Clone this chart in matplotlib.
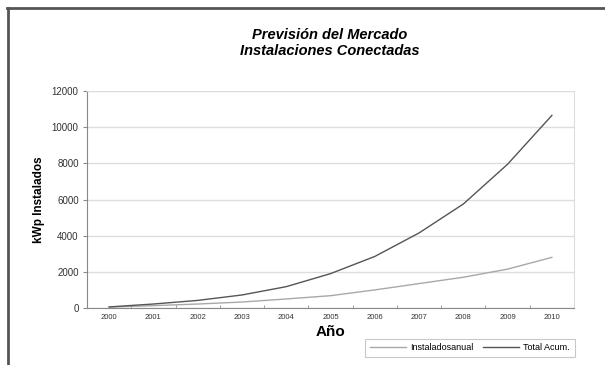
import matplotlib.pyplot as plt
from matplotlib.lines import Line2D
import numpy as np

plt.rcParams['font.family'] = ['Liberation Sans', 'DejaVu Sans']

# data
years = ['2000', '2001', '2002', '2003', '2004', '2005', '2006', '2007', '2008', '2009', '2010']
anual = [50, 130, 220, 330, 500, 680, 1000, 1350, 1700, 2150, 2800]
total = [60, 220, 420, 720, 1180, 1900, 2850, 4150, 5750, 7950, 10650]
yticks = [0, 2000, 4000, 6000, 8000, 10000, 12000]

fig = plt.figure(figsize=(6.05, 3.65), dpi=100)
ax = fig.add_axes([87/605, 1 - 308/365, (574 - 87)/605, (308 - 91)/365])

x = np.arange(len(years))
ax.plot(x, anual, color='#a8a8a8', lw=1.0, label='Instaladosanual')
ax.plot(x, total, color='#555555', lw=1.0, label='Total Acum.')

ax.set_xlim(-0.5, len(years) - 0.5)
ax.set_ylim(0, 12000)
ax.set_yticks(yticks)
ax.set_yticklabels([str(v) for v in yticks], fontsize=7, color='#333333')
ax.set_xticks(x)
ax.set_xticklabels(years, fontsize=5.5, color='#333333')
ax.set_xticks(np.arange(-0.5, len(years)), minor=True)
ax.tick_params(axis='x', which='major', length=0, pad=4)
ax.tick_params(axis='x', which='minor', length=2, direction='in', color='#888888')
ax.tick_params(axis='y', length=3, color='#888888', pad=3)
ax.yaxis.grid(True, color='#dddddd', lw=1)
ax.set_axisbelow(True)
for s in ['top', 'right']:
    ax.spines[s].set_color('#dddddd')
for s in ['left', 'bottom']:
    ax.spines[s].set_color('#888888')

ax.set_ylabel('kWp Instalados', fontsize=8.5, fontweight='bold', labelpad=5)
ax.set_xlabel('Año', fontsize=11, fontweight='bold', labelpad=3)

fig.text(330/605, 1 - 43/365, 'Previsión del Mercado\nInstalaciones Conectadas',
         ha='center', va='center', fontsize=10.5, fontweight='bold', style='italic',
         linespacing=1.2)

leg = fig.legend(loc='center', bbox_to_anchor=(470/605, 1 - 348/365), ncol=2,
                 fontsize=6.5, frameon=True, fancybox=False, handlelength=4,
                 borderpad=0.5, columnspacing=1.0, handletextpad=0.5)
leg.get_frame().set_edgecolor('#bbbbbb')
leg.get_frame().set_linewidth(0.8)

# outer frame (top and left only visible)
fig.add_artist(Line2D([7/605, 1], [1 - 8/365, 1 - 8/365], color='#555555', lw=2))
fig.add_artist(Line2D([8/605, 8/605], [0, 1 - 8/365], color='#555555', lw=2))

fig.savefig('out.png', dpi=100)
